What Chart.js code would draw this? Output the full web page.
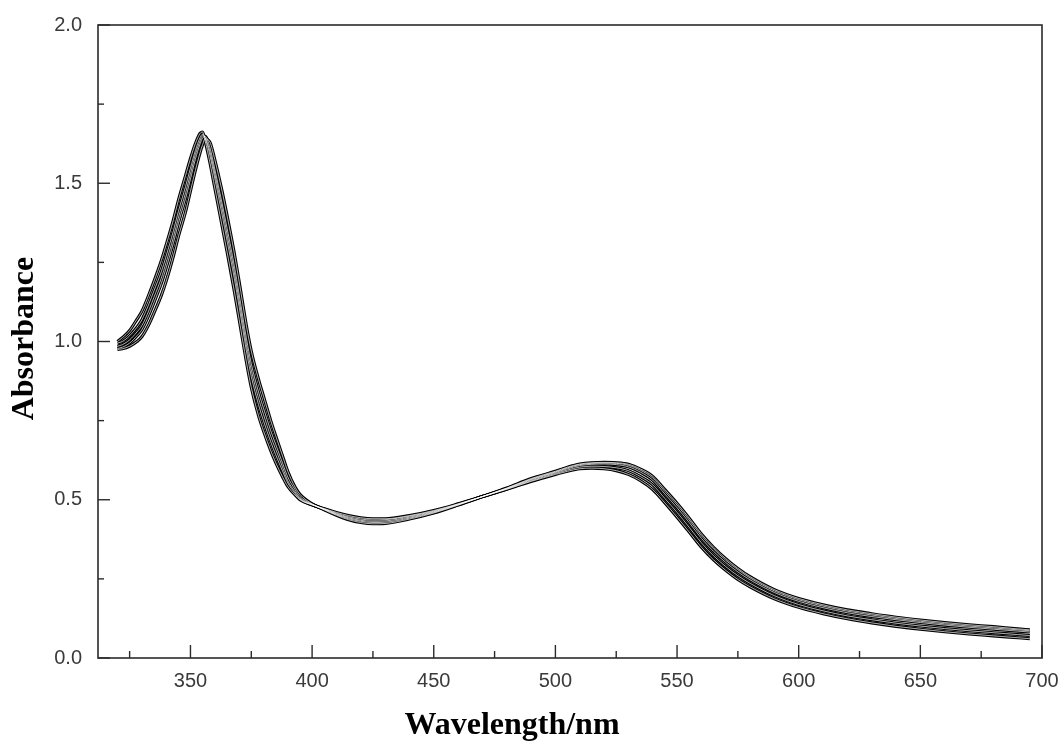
<!DOCTYPE html>
<html><head><meta charset="utf-8">
<script src="https://cdn.jsdelivr.net/npm/chart.js@4.4.0/dist/chart.umd.min.js"></script>
<style>html,body{margin:0;padding:0;background:#fff;}#wrap{position:relative;width:1061px;height:743px;}</style>
</head><body><div id="wrap"><canvas id="c" width="1061" height="743" style="width:1061px;height:743px"></canvas></div>
<script>
const WAVELENGTH = [320,322,325,328,330,333,335,338,340,343,345,348,350,352,354,355,356,358,360,363,365,368,370,373,375,378,380,383,385,388,390,393,395,400,405,410,415,420,425,430,440,450,460,470,480,490,500,505,510,515,520,525,530,535,540,545,550,555,560,565,570,575,580,590,600,610,620,630,640,650,660,670,680,690,695];

const SERIES_1 = [1.00,1.012,1.035,1.07,1.095,1.15,1.19,1.255,1.305,1.385,1.445,1.525,1.578,1.625,1.658,1.662,1.635,1.565,1.485,1.365,1.285,1.16,1.07,0.935,0.855,0.765,0.718,0.655,0.618,0.57,0.542,0.515,0.50,0.484,0.472,0.46,0.45,0.443,0.44,0.44,0.45,0.466,0.487,0.51,0.533,0.558,0.58,0.59,0.598,0.60,0.598,0.592,0.58,0.56,0.532,0.49,0.445,0.398,0.35,0.31,0.277,0.248,0.225,0.187,0.16,0.14,0.124,0.111,0.10,0.091,0.083,0.076,0.07,0.064,0.061];
const SERIES_2 = [0.995,1.0,1.018,1.045,1.068,1.12,1.16,1.22,1.27,1.35,1.41,1.49,1.548,1.603,1.645,1.655,1.643,1.588,1.515,1.40,1.32,1.20,1.11,0.97,0.89,0.80,0.75,0.683,0.643,0.588,0.553,0.52,0.502,0.484,0.471,0.457,0.446,0.439,0.436,0.437,0.448,0.464,0.486,0.51,0.534,0.56,0.583,0.594,0.603,0.606,0.605,0.601,0.592,0.573,0.547,0.504,0.46,0.413,0.364,0.323,0.289,0.26,0.236,0.197,0.169,0.149,0.133,0.121,0.11,0.101,0.093,0.086,0.08,0.074,0.071];
const SERIES_3 = [0.985,0.99,1.005,1.03,1.05,1.10,1.14,1.20,1.25,1.33,1.39,1.47,1.53,1.59,1.635,1.65,1.645,1.60,1.53,1.42,1.34,1.22,1.13,0.99,0.91,0.82,0.77,0.70,0.66,0.60,0.56,0.525,0.505,0.485,0.47,0.455,0.443,0.435,0.432,0.433,0.445,0.462,0.485,0.51,0.535,0.563,0.586,0.598,0.608,0.612,0.613,0.611,0.604,0.587,0.562,0.518,0.475,0.428,0.378,0.337,0.302,0.272,0.247,0.207,0.179,0.159,0.143,0.131,0.121,0.112,0.104,0.097,0.091,0.085,0.082];
const SERIES_4 = [0.978,0.982,0.995,1.018,1.037,1.085,1.123,1.183,1.232,1.312,1.372,1.452,1.513,1.575,1.625,1.643,1.648,1.613,1.545,1.437,1.36,1.24,1.15,1.01,0.93,0.84,0.79,0.718,0.676,0.613,0.572,0.532,0.51,0.486,0.469,0.453,0.44,0.432,0.428,0.429,0.442,0.46,0.484,0.51,0.536,0.565,0.588,0.601,0.611,0.615,0.616,0.615,0.609,0.593,0.569,0.526,0.483,0.436,0.386,0.345,0.309,0.279,0.253,0.212,0.184,0.164,0.148,0.136,0.125,0.116,0.108,0.101,0.095,0.089,0.086];
const SERIES_5 = [0.975,0.977,0.985,1.0,1.015,1.055,1.09,1.145,1.19,1.27,1.33,1.41,1.475,1.54,1.598,1.622,1.64,1.63,1.575,1.475,1.40,1.28,1.19,1.05,0.97,0.88,0.828,0.75,0.703,0.635,0.59,0.54,0.517,0.487,0.468,0.451,0.437,0.428,0.424,0.425,0.439,0.458,0.483,0.51,0.537,0.567,0.59,0.603,0.613,0.617,0.618,0.617,0.612,0.597,0.574,0.532,0.489,0.442,0.392,0.35,0.314,0.283,0.257,0.216,0.188,0.168,0.152,0.14,0.129,0.12,0.112,0.105,0.099,0.092,0.089];

const X_TICKS = [350,400,450,500,550,600,650,700];
const X_MINOR_TICKS = [325,375,425,475,525,575,625,675];
const Y_TICKS = [0.0,0.5,1.0,1.5,2.0];
const Y_MINOR_TICKS = [0.25,0.75,1.25,1.75];
const X_TITLE = 'Wavelength/nm';
const Y_TITLE = 'Absorbance';

const ALL = [SERIES_1, SERIES_2, SERIES_3, SERIES_4, SERIES_5];
const datasets = [];
ALL.forEach((s, k) => {
  const pts = WAVELENGTH.map((w, i) => ({x: w, y: s[i]}));
  datasets.push({label: 'S' + (k+1), data: pts, borderColor: '#000', borderWidth: 3.1, pointRadius: 0, cubicInterpolationMode: 'monotone', order: 2, fill: false});
  datasets.push({label: 'S' + (k+1) + 'w', data: pts, borderColor: '#fff', borderWidth: 0.7, pointRadius: 0, cubicInterpolationMode: 'monotone', order: 1, fill: false});
});

const frame = {
  id: 'frame',
  beforeDatasetsDraw(chart) {
    const {ctx, chartArea: a, scales: {x, y}} = chart;
    ctx.save();
    ctx.strokeStyle = '#2b2b2b';
    ctx.lineWidth = 1.6;
    ctx.strokeRect(a.left, a.top, a.right - a.left, a.bottom - a.top);
    ctx.lineWidth = 1.4;
    const ln = (x1, y1, x2, y2) => { ctx.beginPath(); ctx.moveTo(x1, y1); ctx.lineTo(x2, y2); ctx.stroke(); };
    X_TICKS.forEach(v => { const p = x.getPixelForValue(v); ln(p, a.bottom, p, a.bottom - 13); });
    X_MINOR_TICKS.forEach(v => { const p = x.getPixelForValue(v); ln(p, a.bottom, p, a.bottom - 7); });
    Y_TICKS.forEach(v => { const p = y.getPixelForValue(v); ln(a.left, p, a.left + 12, p); });
    Y_MINOR_TICKS.forEach(v => { const p = y.getPixelForValue(v); ln(a.left, p, a.left + 6, p); });
    ctx.restore();
  },
  afterDraw(chart) {
    const {ctx} = chart;
    ctx.save();
    ctx.fillStyle = '#000';
    ctx.font = 'bold 32px "Liberation Serif", "Times New Roman", serif';
    ctx.textAlign = 'center';
    ctx.textBaseline = 'alphabetic';
    ctx.fillText(X_TITLE, 512, 734);
    ctx.translate(33, 338.5);
    ctx.rotate(-Math.PI / 2);
    ctx.fillText(Y_TITLE, 0, 0);
    ctx.restore();
  }
};

new Chart(document.getElementById('c'), {
  type: 'line',
  data: {datasets},
  options: {
    responsive: false,
    animation: false,
    devicePixelRatio: 1,
    layout: {padding: {top: 25, right: 19, left: 0, bottom: 0}},
    plugins: {legend: {display: false}, tooltip: {enabled: false}},
    elements: {line: {tension: 0}},
    scales: {
      x: {
        type: 'linear', min: 312, max: 700,
        afterBuildTicks: s => { s.ticks = X_TICKS.map(v => ({value: v})); },
        afterFit: s => { s.height = 85; s.paddingLeft = 0; s.paddingRight = 0; },
        grid: {display: false, drawTicks: false},
        border: {display: false},
        ticks: {color: '#3a3a3a', padding: 11, maxRotation: 0, autoSkip: false, font: {family: '"Liberation Sans", Arial, sans-serif', size: 20}, callback: v => String(v)}
      },
      y: {
        type: 'linear', min: 0, max: 2,
        afterBuildTicks: s => { s.ticks = Y_TICKS.map(v => ({value: v})); },
        afterFit: s => { s.width = 98; s.paddingTop = 0; s.paddingBottom = 0; },
        grid: {display: false, drawTicks: false},
        border: {display: false},
        ticks: {color: '#3a3a3a', padding: 16, autoSkip: false, font: {family: '"Liberation Sans", Arial, sans-serif', size: 20}, callback: v => v.toFixed(1)}
      }
    }
  },
  plugins: [frame]
});
</script>
</body></html>
